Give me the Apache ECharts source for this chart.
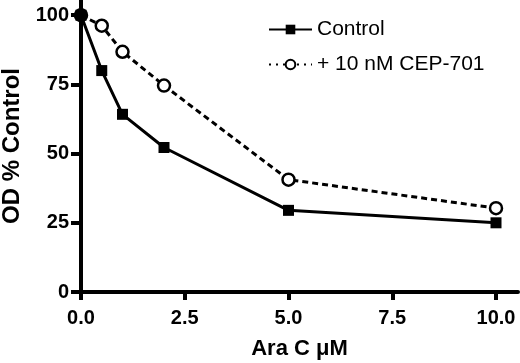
<!DOCTYPE html>
<html>
<head>
<meta charset="utf-8">
<script src="https://cdn.jsdelivr.net/npm/echarts@6/dist/echarts.min.js"></script>
<style>
  html, body { margin: 0; padding: 0; background: #fff; }
  #chart { width: 520px; height: 363px; }
</style>
</head>
<body>
<div id="chart"></div>
<script>
// Ara C concentration (uM)
const doses = [0, 0.5, 1, 2, 5, 10]
const controlValues = [100, 80, 64.2, 52.2, 29.5, 25]
const cepValues = [100, 96.2, 86.8, 74.6, 40.6, 30.3]
const xTicks = [0, 2.5, 5, 7.5, 10]
const yTicks = [0, 25, 50, 75, 100]

const pairs = (xs, ys) => xs.map((x, i) => [x, ys[i]])

const chart = echarts.init(document.getElementById('chart'))
const font = 'Liberation Sans, Arial, sans-serif'

chart.setOption({
  animation: false,
  grid: { left: 81, right: 2, top: 0, bottom: 71, outerBoundsMode: 'none', containLabel: false },
  legend: {
    orient: 'vertical',
    left: 268,
    top: 19,
    padding: 0,
    itemWidth: 43,
    itemHeight: 12,
    itemGap: 14,
    textStyle: { fontFamily: font, fontSize: 21, color: '#000' },
    data: [
      { name: 'Control' },
      { name: '+ 10 nM CEP-701', lineStyle: { type: [2, 5], width: 2 } }
    ]
  },
  xAxis: {
    type: 'value',
    min: 0,
    max: 10.53,
    name: 'Ara C μM',
    nameLocation: 'middle',
    nameGap: 46,
    nameTextStyle: { fontFamily: font, fontSize: 22, fontWeight: 'bold', color: '#000' },
    splitLine: { show: false },
    axisLine: { show: true, lineStyle: { color: '#000', width: 4 } },
    axisTick: { show: true, length: 8, lineStyle: { color: '#000', width: 4 }, customValues: xTicks },
    axisLabel: {
      fontFamily: font, fontSize: 20, fontWeight: 'bold', color: '#000', margin: 16,
      customValues: xTicks,
      formatter: v => v.toFixed(1)
    }
  },
  yAxis: {
    type: 'value',
    min: 0,
    max: 105.5,
    name: 'OD % Control',
    nameLocation: 'middle',
    nameGap: 55,
    nameTextStyle: { fontFamily: font, fontSize: 24, fontWeight: 'bold', color: '#000' },
    splitLine: { show: false },
    axisLine: { show: true, lineStyle: { color: '#000', width: 4 } },
    axisTick: { show: true, length: 10, lineStyle: { color: '#000', width: 4 }, customValues: yTicks },
    axisLabel: {
      fontFamily: font, fontSize: 20, fontWeight: 'bold', color: '#000', margin: 12,
      customValues: yTicks
    }
  },
  series: [
    {
      name: '+ 10 nM CEP-701',
      type: 'line',
      data: pairs(doses, cepValues),
      symbol: 'circle',
      symbolSize: 12,
      itemStyle: { color: '#fff', borderColor: '#000', borderWidth: 2.5 },
      lineStyle: { color: '#000', width: 3, type: [6, 4] },
      z: 2
    },
    {
      name: 'Control',
      type: 'line',
      data: pairs(doses, controlValues),
      symbol: 'rect',
      symbolSize: 11,
      itemStyle: { color: '#000' },
      lineStyle: { color: '#000', width: 3 },
      z: 3
    }
  ]
})
</script>
</body>
</html>
